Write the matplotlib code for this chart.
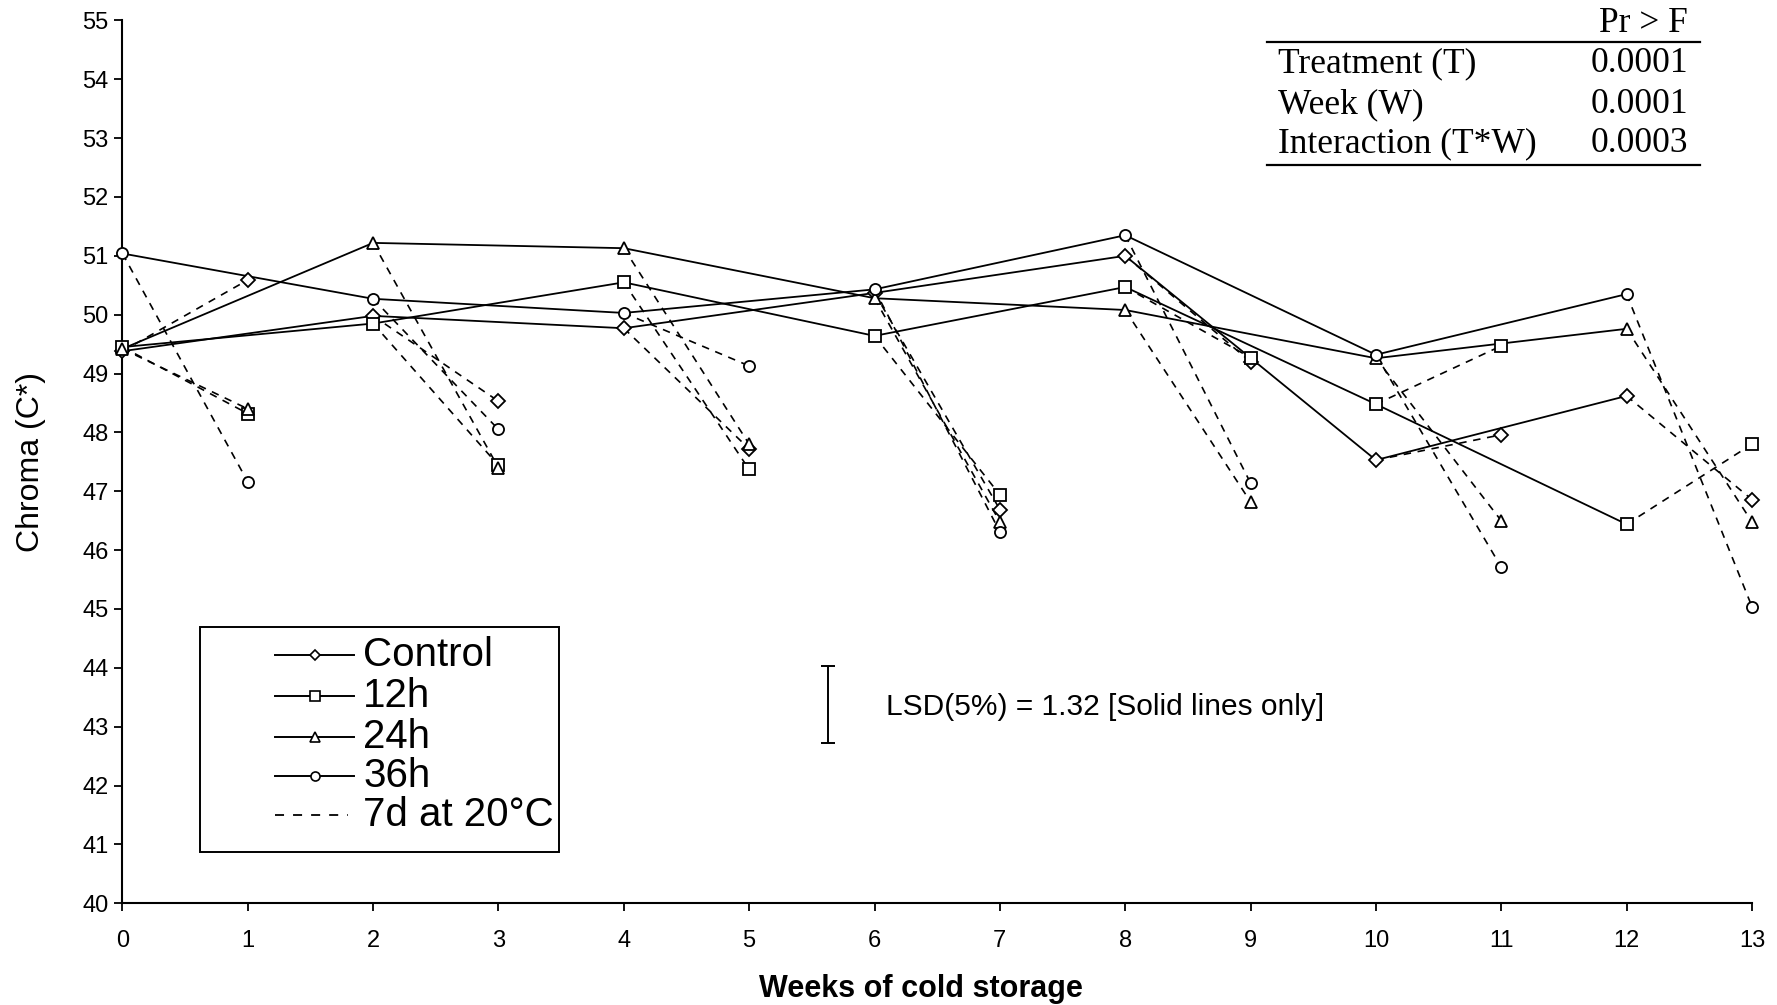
import matplotlib
matplotlib.use("Agg")
import matplotlib.pyplot as plt
from matplotlib import font_manager
from matplotlib.patches import Rectangle
from matplotlib.lines import Line2D


def pick(*names):
    avail = {f.name for f in font_manager.fontManager.ttflist}
    for n in names:
        if n in avail:
            return n
    return "DejaVu Sans"


SANS = pick("Liberation Sans", "Arial")
NARROW = pick("Liberation Sans Narrow", "Arial Narrow", "Liberation Sans")
SERIF = pick("Liberation Serif", "Times New Roman")

# ---- data -------------------------------------------------------------
weeks_storage = [0, 2, 4, 6, 8, 10, 12]      # end of cold storage
weeks_shelf = [1, 3, 5, 7, 9, 11, 13]        # after 7 d at 20 °C

treatments = ["Control", "12h", "24h", "36h"]
markers = ["D", "s", "^", "o"]
marker_sizes = [7.5, 8, 9, 8]

control_storage = [49.38, 49.98, 49.77, 50.37, 51.00, 47.53, 48.62]
control_shelf = [50.59, 48.53, 47.72, 46.69, 49.20, 47.96, 46.86]
h12_storage = [49.45, 49.85, 50.55, 49.64, 50.47, 48.48, 46.44]
h12_shelf = [48.32, 47.44, 47.37, 46.94, 49.27, 49.47, 47.80]
h24_storage = [49.42, 51.22, 51.13, 50.28, 50.08, 49.26, 49.76]
h24_shelf = [48.40, 47.40, 47.80, 46.48, 46.82, 46.50, 46.48]
h36_storage = [51.04, 50.27, 50.03, 50.43, 51.35, 49.32, 50.35]
h36_shelf = [47.16, 48.05, 49.13, 46.31, 47.14, 45.71, 45.04]

storage_values = [control_storage, h12_storage, h24_storage, h36_storage]
shelf_values = [control_shelf, h12_shelf, h24_shelf, h36_shelf]

lsd = 1.32
lsd_x = 5.63
lsd_mid = 43.38

anova_terms = ["Treatment (T)", "Week (W)", "Interaction (T*W)"]
anova_p = ["0.0001", "0.0001", "0.0003"]

x_ticks = list(range(0, 14))
y_ticks = list(range(40, 56))

# ---- figure -----------------------------------------------------------
fig = plt.figure(figsize=(17.77, 10.05), dpi=100)
ax = fig.add_axes([0.0689, 0.1012, 0.9170, 0.8785])

solid_kw = dict(color="black", lw=1.3, clip_on=False)
dash_kw = dict(color="black", lw=1.2, linestyle=(0, (4.5, 4)), clip_on=False)

for vals_s, vals_f, m, ms in zip(storage_values, shelf_values, markers, marker_sizes):
    # cold-storage trend (solid)
    ax.plot(weeks_storage, vals_s, zorder=3, **solid_kw)
    # shelf-life segments (dashed)
    for ws, vs, wf, vf in zip(weeks_storage, vals_s, weeks_shelf, vals_f):
        ax.plot([ws, wf], [vs, vf], zorder=2, **dash_kw)
    mk = dict(marker=m, ms=ms, mfc="white", mec="black", mew=1.3,
              linestyle="none", clip_on=False, zorder=5)
    ax.plot(weeks_storage, vals_s, **mk)
    ax.plot(weeks_shelf, vals_f, **mk)

# axes styling
ax.set_xlim(0, 13)
ax.set_ylim(40, 55)
ax.set_xticks(x_ticks)
ax.set_yticks(y_ticks)
for s in ("top", "right"):
    ax.spines[s].set_visible(False)
for s in ("left", "bottom"):
    ax.spines[s].set_linewidth(1.5)
ax.tick_params(axis="both", direction="out", length=6, width=1.3, colors="black")
ax.tick_params(axis="x", pad=13)
ax.tick_params(axis="y", pad=4)
for lab in ax.get_xticklabels() + ax.get_yticklabels():
    lab.set_fontfamily(NARROW)
    lab.set_fontsize(17)

ax.set_xlabel("Weeks of cold storage", fontfamily=SANS, fontweight="bold",
              fontsize=22)
ax.xaxis.set_label_coords(0.49, -0.080)
ax.set_ylabel("Chroma (C*)", fontfamily=SANS, fontsize=23)
ax.yaxis.set_label_coords(-0.047, 0.5)

# LSD bar
ax.errorbar([lsd_x], [lsd_mid], yerr=[[lsd / 2], [lsd / 2]], fmt="none",
            ecolor="black", elinewidth=1.4, capsize=5, capthick=1.4)
ax.text(6.09, lsd_mid - 0.05, "LSD(5%) = 1.32 [Solid lines only]",
        fontfamily=NARROW, fontsize=21.5, va="center", ha="left")

# legend box
ax.add_patch(Rectangle((0.62, 40.87), 2.86, 3.83, fill=False, lw=1.4,
                       ec="black", clip_on=False, zorder=6))
legend_rows = [44.21, 43.52, 42.83, 42.16, 41.50]
for name, m, y in zip(treatments, markers, legend_rows[:4]):
    ax.add_line(Line2D([1.22, 1.85], [y, y], color="black", lw=1.4, zorder=7))
    ax.plot([1.535], [y], marker=m, ms=6.5 if m != "D" else 5.5, mfc="white",
            mec="black", mew=1.2, linestyle="none", zorder=8)
    ax.text(1.92, y, name, fontfamily=SANS, fontsize=29, va="center",
            ha="left", zorder=8)
ax.add_line(Line2D([1.22, 1.80], [legend_rows[4]] * 2, color="black", lw=1.3,
                   linestyle=(0, (5, 5)), zorder=7))
ax.text(1.92, legend_rows[4], "7d at 20\u00b0C", fontfamily=SANS, fontsize=29,
        va="center", ha="left", zorder=8)

# ANOVA table (figure coordinates)
W, H = 1777.0, 1005.0
fx = lambda px: px / W
fy = lambda py: 1 - py / H
fig.text(fx(1688), fy(24), "Pr > F", fontfamily=SERIF, fontsize=25.5,
         ha="right", va="center")
fig.add_artist(Line2D([fx(1267), fx(1700)], [fy(42), fy(42)], color="black",
                      lw=1.6))
for term, p, py in zip(anova_terms, anova_p, [64, 104.5, 144]):
    fig.text(fx(1278), fy(py), term, fontfamily=SERIF, fontsize=25.5,
             ha="left", va="center")
    fig.text(fx(1688), fy(py), p, fontfamily=SERIF, fontsize=25.5,
             ha="right", va="center")
fig.add_artist(Line2D([fx(1267), fx(1700)], [fy(165), fy(165)], color="black",
                      lw=1.6))

fig.savefig("out.png", dpi=100, facecolor="white")
